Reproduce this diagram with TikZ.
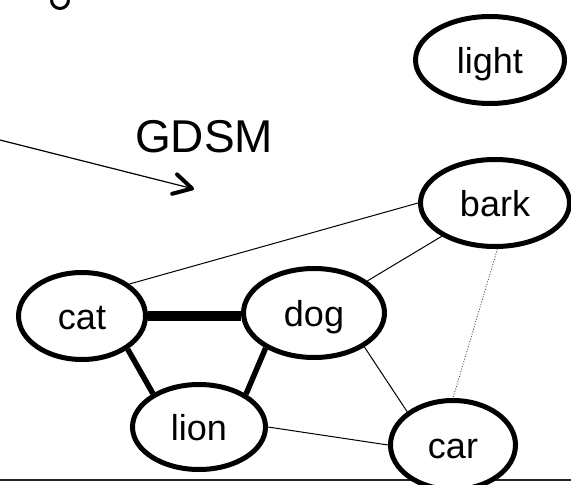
\documentclass[tikz,border=0pt]{standalone}
\usepackage{fontspec}
\setmainfont{Liberation Sans}
\usetikzlibrary{shapes.geometric,arrows.meta}
\begin{document}
\begin{tikzpicture}[x=1pt,y=1pt,
  word/.style={ellipse,draw,line width=5pt,fill=white,inner sep=0pt,
    font=\fontsize{36}{40}\selectfont,text height=35pt,text depth=7.5pt},
  thinlink/.style={line width=1pt},
  heavylink/.style={line width=5.5pt},
  heaviestlink/.style={line width=10pt},
  weaklink/.style={line width=0.8pt,dash pattern=on 1pt off 1.6pt,black!75}]
\useasboundingbox (0,0) rectangle (571,-485);
% bottom rule
\coordinate (ruleL) at (0,-480);
\coordinate (ruleR) at (571,-480);
\draw[line width=1.5pt,black!85] (ruleL) -- (ruleR);
% cropped glyph at top
\draw[line width=3pt] (51.5,0) arc[start angle=180,end angle=360,radius=8.5pt];
% nodes
\node[word,minimum width=149pt,minimum height=87pt] (light) at (490,-60) {light};
\node[word,minimum width=149pt,minimum height=87pt] (bark) at (495,-203) {bark};
\node[word,minimum width=127pt,minimum height=87pt] (cat) at (82,-316) {cat};
\node[word,minimum width=141pt,minimum height=89pt] (dog) at (314,-313) {dog};
\node[word,minimum width=133pt,minimum height=85pt] (lion) at (199,-427) {lion};
\node[word,minimum width=125pt,minimum height=89pt] (car) at (453,-445) {car};
% label and arrow
\node[anchor=base,font=\fontsize{46}{50}\selectfont,inner sep=0pt] (gdsm) at (204,-152) {GDSM};
\coordinate (arrowstart) at (0,-140);
\coordinate (arrowend) at (194,-189);
\draw[line width=1.2pt,-{Straight Barb[length=18pt,width=20pt,line width=4pt,round]}] (arrowstart) -- (arrowend);
% edges
\draw[heaviestlink] (cat.east) -- (cat.east -| dog.west);
\draw[heavylink] (cat.-36) -- (lion.144);
\draw[heavylink] (dog.216) -- (lion.35);
\draw[thinlink] (cat.34) -- (bark.west);
\draw[thinlink] (dog.31) -- (bark.212);
\draw[thinlink] (dog.-34) -- (car.144);
\draw[thinlink] (lion.east) -- (car.west);
\draw[weaklink] (bark.-87) -- (car.north);
\end{tikzpicture}
\end{document}
